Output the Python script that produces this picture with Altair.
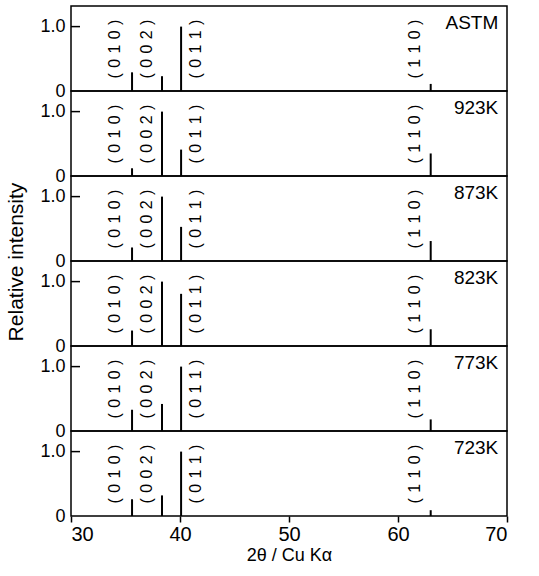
import altair as alt
import pandas as pd

# Samples, top to bottom
samples = ["ASTM", "923K", "873K", "823K", "773K", "723K"]

# Reflections (Miller indices), their 2θ positions and label positions
planes = ["(010)", "(002)", "(011)", "(110)"]
two_theta = [35.6, 38.35, 40.1, 63.0]
label_x = [34.0, 37.0, 41.5, 61.6]

# Relative intensities, one list per sample, in the order of `planes`
astm = [0.29, 0.23, 1.0, 0.11]
k923 = [0.12, 1.0, 0.41, 0.35]
k873 = [0.21, 1.0, 0.53, 0.31]
k823 = [0.24, 1.0, 0.81, 0.26]
k773 = [0.33, 0.42, 1.0, 0.18]
k723 = [0.26, 0.32, 1.0, 0.09]

series = [astm, k923, k873, k823, k773, k723]

# Widely spaced index labels (three-per-em space between characters)
SPACER = "\u2004"

rows = []
for s, vals in zip(samples, series):
    for p, t, lx, v in zip(planes, two_theta, label_x, vals):
        rows.append({
            "sample": s,
            "plane": p,
            "plane_text": SPACER.join(p),
            "two_theta": t,
            "label_x": lx,
            "intensity": v,
        })
df = pd.DataFrame(rows)

FONT = "Liberation Sans"

x_scale = alt.Scale(domain=[30, 70], nice=False, zero=False)
y_scale = alt.Scale(domain=[0, 1.32], nice=False)

x_enc = alt.X(
    "two_theta:Q",
    scale=x_scale,
    axis=alt.Axis(
        values=[30, 40, 50, 60, 70],
        grid=False,
        domain=False,
        tickSize=6,
        tickColor="black",
        tickWidth=1.5,
        labelFontSize=20,
        labelColor="black",
        labelPadding=2,
        title="2θ / Cu Kα",
        titleFontSize=18,
        titleFontWeight="normal",
        titleColor="black",
        titlePadding=2,
    ),
)

y_enc = alt.Y(
    "intensity:Q",
    scale=y_scale,
    axis=alt.Axis(
        values=[0, 1],
        labelExpr="datum.value == 0 ? '0' : '1.0'",
        grid=False,
        domain=False,
        ticks=False,
        labelFontSize=18,
        labelColor="black",
        labelPadding=6,
        title=None,
    ),
)

peaks = alt.Chart().mark_rule(color="black", strokeWidth=2).encode(
    x=x_enc,
    y=y_enc,
    y2=alt.datum(0),
)

hkl = alt.Chart().mark_text(
    angle=270, fontSize=16, font=FONT, color="black", baseline="middle", align="center"
).encode(
    x=alt.X("label_x:Q", scale=x_scale),
    y=alt.datum(0.65),
    text="plane_text:N",
)

one_per_panel = alt.datum.plane == planes[0]

panel_label = alt.Chart().mark_text(
    align="right", baseline="middle", fontSize=19, font=FONT, color="black"
).encode(
    x=alt.datum(69.2),
    y=alt.datum(1.05),
    text="sample:N",
).transform_filter(one_per_panel)

inner_tick = alt.Chart().mark_rule(color="black", strokeWidth=1.5).encode(
    x=alt.value(0),
    x2=alt.value(9),
    y=alt.datum(1.0),
).transform_filter(one_per_panel)

layered = alt.layer(peaks, hkl, panel_label, inner_tick).properties(width=436, height=85)

chart = layered.facet(
    data=df,
    row=alt.Row(
        "sample:N",
        sort=samples,
        title="Relative intensity",
        header=alt.Header(
            labels=False,
            titleOrient="left",
            titleFontSize=21,
            titleFontWeight="normal",
            titleColor="black",
            titleFont=FONT,
            titlePadding=2,
        ),
    ),
    spacing=0,
    bounds="flush",
).configure(
    font=FONT,
).configure_view(
    stroke="black",
    strokeWidth=1.5,
)

chart.save("out.html", embed_options={"renderer": "svg", "actions": False})
